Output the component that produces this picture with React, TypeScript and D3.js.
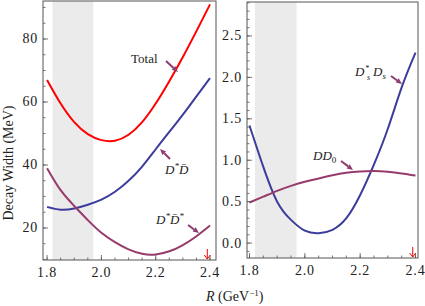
import React from "react";
import * as d3 from "d3";

// R values (GeV^-1) where the curves were read
const rValues = [1.8, 1.85, 1.9, 1.95, 2.0, 2.05, 2.1, 2.15, 2.2, 2.25, 2.3, 2.35, 2.4];

// left panel (MeV)
const totalWidth = [67, 59.5, 53.6, 49.8, 47.9, 47.7, 49.6, 53.6, 59.5, 66.6, 74.3, 82.5, 91];
const dStarDbar = [26.7, 25.8, 26.2, 27.4, 29, 31.5, 35, 39.5, 45, 50.5, 56, 61.8, 67.6];
const dStarDbarStar = [39, 32, 27, 22.5, 18.5, 15.5, 13.2, 11.8, 11.6, 12.6, 14.6, 17.4, 20.8];

// right panel (MeV)
const dsStarDs = [1.42, 0.92, 0.5, 0.28, 0.15, 0.12, 0.16, 0.3, 0.58, 0.95, 1.38, 1.88, 2.3];
const dD0 = [0.49, 0.56, 0.63, 0.69, 0.74, 0.78, 0.82, 0.85, 0.865, 0.87, 0.86, 0.84, 0.815];

const band = [1.82, 1.97];
const markerR = 2.39;

const leftYTicks = [20, 40, 60, 80];
const rightYTicks = [0, 0.5, 1, 1.5, 2, 2.5];
const xTicks = [1.8, 2.0, 2.2, 2.4];

const RED = "#ff0000";
const BLUE = "#3c3c9c";
const PURPLE = "#973a6c";
const ARROW = "#8c3c6e";
const FRAME = "#555";
const FONT = "'Liberation Serif', 'DejaVu Serif', serif";

type Series = { values: number[]; color: string };

type PanelProps = {
  x: d3.ScaleLinear<number, number>;
  y: d3.ScaleLinear<number, number>;
  yTicks: number[];
  yMinorStep: number;
  yFormat: (d: number) => string;
  series: Series[];
};

const Panel = ({ x, y, yTicks, yMinorStep, yFormat, series }: PanelProps) => {
  const [x0, x1] = x.range();
  const [y0, y1] = y.range(); // y0 bottom, y1 top
  const line = d3
    .line<number>()
    .x((_, i) => x(rValues[i]))
    .y((d) => y(d))
    .curve(d3.curveNatural);

  const [yd0, yd1] = y.domain();
  const yMinor = d3.range(Math.ceil(yd0 / yMinorStep) * yMinorStep, yd1, yMinorStep);
  const xMinor = d3.range(1.8, 2.401, 0.05);

  return (
    <g>
      <rect x={x(band[0])} y={y1} width={x(band[1]) - x(band[0])} height={y0 - y1} fill="#ebebeb" />
      {series.map((s, i) => (
        <path key={i} d={line(s.values) ?? ""} fill="none" stroke={s.color} strokeWidth={2} />
      ))}
      {/* red marker arrow near the axis */}
      <g stroke={RED} strokeWidth={1} fill="none">
        <line x1={x(markerR)} x2={x(markerR)} y1={y0 - 11} y2={y0 - 1} />
        <polyline points={`${x(markerR) - 3},${y0 - 5} ${x(markerR)},${y0 - 1} ${x(markerR) + 3},${y0 - 5}`} />
      </g>
      <rect x={x0} y={y1} width={x1 - x0} height={y0 - y1} fill="none" stroke={FRAME} strokeWidth={1} />
      {yMinor.map((t, i) => (
        <line key={"ym" + i} x1={x0} x2={x0 + 2.5} y1={y(t)} y2={y(t)} stroke={FRAME} strokeWidth={0.8} />
      ))}
      {yTicks.map((t) => (
        <g key={"y" + t}>
          <line x1={x0} x2={x0 + 5} y1={y(t)} y2={y(t)} stroke={FRAME} strokeWidth={0.8} />
          <text x={x0 - 5} y={y(t) + 4.5} textAnchor="end" fontSize={14} letterSpacing={0.8} fill="#222">
            {yFormat(t)}
          </text>
        </g>
      ))}
      {xMinor.map((t, i) => (
        <line key={"xm" + i} x1={x(t)} x2={x(t)} y1={y0} y2={y0 - 2.5} stroke={FRAME} strokeWidth={0.8} />
      ))}
      {xTicks.map((t) => (
        <g key={"x" + t}>
          <line x1={x(t)} x2={x(t)} y1={y0} y2={y0 - 5} stroke={FRAME} strokeWidth={0.8} />
          <text x={x(t)} y={y0 + 17} textAnchor="middle" fontSize={14} letterSpacing={0.8} fill="#222">
            {d3.format(".1f")(t)}
          </text>
        </g>
      ))}
    </g>
  );
};

const Arrow = ({ from, to }: { from: [number, number]; to: [number, number] }) => {
  const ang = Math.atan2(to[1] - from[1], to[0] - from[0]);
  const hl = 6;
  const hw = 2.6;
  const bx = to[0] - hl * Math.cos(ang);
  const by = to[1] - hl * Math.sin(ang);
  const px = -Math.sin(ang) * hw;
  const py = Math.cos(ang) * hw;
  return (
    <g>
      <line x1={from[0]} y1={from[1]} x2={bx} y2={by} stroke={ARROW} strokeWidth={2} />
      <polygon points={`${to[0]},${to[1]} ${bx + px},${by + py} ${bx - px},${by - py}`} fill={ARROW} />
    </g>
  );
};

const App = () => {
  const xL = d3.scaleLinear().domain([1.785, 2.422]).range([43, 216]);
  const yL = d3.scaleLinear().domain([9.84, 92.06]).range([260, 1]);
  const xR = d3.scaleLinear().domain([1.791, 2.409]).range([247, 418]);
  const yR = d3.scaleLinear().domain([-0.18, 2.91]).range([258, 2]);

  return (
    <svg
      width={425}
      height={306}
      style={{ position: "absolute", left: 0, top: 0, background: "#fff" }}
      fontFamily={FONT}
    >
      <rect width={425} height={306} fill="#fff" />
      <Panel
        x={xL}
        y={yL}
        yTicks={leftYTicks}
        yMinorStep={5}
        yFormat={(d) => String(d)}
        series={[
          { values: totalWidth, color: RED },
          { values: dStarDbar, color: BLUE },
          { values: dStarDbarStar, color: PURPLE },
        ]}
      />
      <Panel
        x={xR}
        y={yR}
        yTicks={rightYTicks}
        yMinorStep={0.1}
        yFormat={(d) => d3.format(".1f")(d)}
        series={[
          { values: dsStarDs, color: BLUE },
          { values: dD0, color: PURPLE },
        ]}
      />

      {/* curve labels */}
      <g fontSize={13} fill="#222">
        <text x={131} y={63}>Total</text>
        <text x={165} y={174} fontStyle="italic">
          D<tspan dy={-5} fontSize={9}>*</tspan>
          <tspan dy={5}>D&#772;</tspan>
        </text>
        <text x={156} y={224} fontStyle="italic">
          D<tspan dy={-5} fontSize={9}>*</tspan>
          <tspan dy={5}>D&#772;</tspan>
          <tspan dy={-5} fontSize={9}>*</tspan>
        </text>
        <text x={355} y={76} fontStyle="italic">D</text>
        <text x={365} y={71} fontSize={8} fontStyle="italic">*</text>
        <text x={367} y={80} fontSize={8} fontStyle="italic">s</text>
        <text x={373} y={76} fontStyle="italic">
          D<tspan dy={3} fontSize={9}>s</tspan>
        </text>
        <text x={313} y={160} fontStyle="italic">
          DD<tspan dy={3} fontSize={9} fontStyle="normal">0</tspan>
        </text>
      </g>
      <Arrow from={[166, 61]} to={[178, 72]} />
      <Arrow from={[170, 159]} to={[160, 149]} />
      <Arrow from={[188, 225]} to={[199, 233]} />
      <Arrow from={[391, 76]} to={[402, 84]} />
      <Arrow from={[341, 161]} to={[353, 170]} />

      {/* axis titles */}
      <text transform="translate(13,163) rotate(-90)" textAnchor="middle" fontSize={14} fill="#222">
        Decay Width (MeV)
      </text>
      <text x={206} y={301} fontSize={14} fill="#222">
        <tspan fontStyle="italic">R</tspan> (GeV<tspan dy={-5} fontSize={9}>−1</tspan>
        <tspan dy={5}>)</tspan>
      </text>
    </svg>
  );
};

export default App;
